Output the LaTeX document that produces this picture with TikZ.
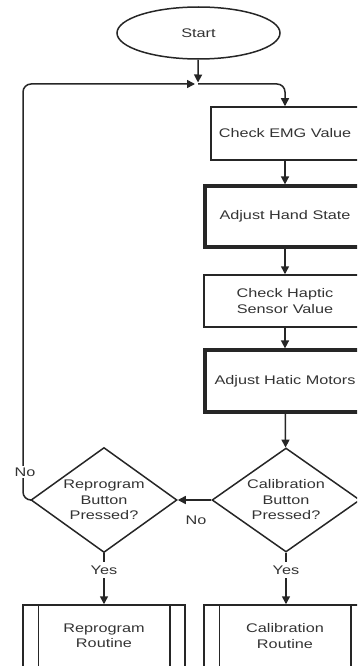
\documentclass[tikz,border=0pt]{standalone}
\usepackage{fontspec}
\setmainfont{Liberation Sans}[FakeStretch=1.3]
\usetikzlibrary{arrows.meta,shapes.geometric}
\begin{document}
\begin{tikzpicture}[x=1pt,y=-1pt,
  font=\fontsize{12.5}{15.5}\selectfont,
  line width=1.5pt,
  >={Triangle[length=8pt,width=8pt]},
  every node/.style={text=black!80},
  box/.style={draw=black!85, rectangle, line width=1.5pt, inner sep=0pt, align=center},
  thickbox/.style={box, line width=3.2pt},
  decision/.style={draw=black!85, diamond, aspect=1.42, inner sep=0pt, align=center,
     minimum width=148pt, minimum height=104pt},
  routine/.style={box, minimum width=162pt, minimum height=62pt},
  lbl/.style={fill=white, inner sep=2pt},
  conn/.style={draw=black!85, line width=1.5pt}]
\useasboundingbox (0,0) rectangle (357,666);
\clip (0,0) rectangle (357,666);

\node[draw=black!85, ellipse, line width=1.5pt, minimum width=163pt, minimum height=52pt, inner sep=0pt] (start) at (198.5,33) {Start};
\coordinate (m) at (198,84);

\node[box, minimum width=148pt, minimum height=53pt] (emg) at (285,133.5) {Check EMG Value};
\node[thickbox, minimum width=160pt, minimum height=61pt] (hand) at (285,216.5) {Adjust Hand State};
\node[box, minimum width=162pt, minimum height=52pt] (hap) at (285,301) {Check Haptic\\Sensor Value};
\node[thickbox, minimum width=160pt, minimum height=62pt] (mot) at (285,381) {Adjust Hatic Motors};

\node[decision] (cal) at (286,500) {Calibration\\Button\\Pressed?};
\node[decision, minimum width=146pt, minimum height=105pt] (rep) at (104,500) {Reprogram\\Button\\Pressed?};

\node[routine] (rr) at (104,636) {Reprogram\\Routine};
\node[routine] (cr) at (285,636) {Calibration\\Routine};
\foreach \b in {rr,cr}{
  \draw[conn] ([xshift=16pt]\b.north west) -- ([xshift=16pt]\b.south west);
  \draw[conn] ([xshift=-16pt]\b.north east) -- ([xshift=-16pt]\b.south east);
}

% connectors
\draw[conn,->] (start) -- ([yshift=1.5pt]m);
\coordinate (lb) at (23,500);
\coordinate (lt) at (23,84);
\draw[conn,->,rounded corners=8pt] (rep.west) -- (lb) -- (lt) -- ([xshift=-3pt]m);
\node[lbl] (nol) at (25,472) {No};
\draw[conn,->,rounded corners=8pt] (m) -| (emg.north);
\draw[conn,->] (emg) -- (hand);
\draw[conn,->] (hand) -- (hap);
\draw[conn,->] (hap) -- (mot);
\draw[conn,->] (mot) -- (cal);
\draw[conn,->] (cal.west) -- (rep.east);
\node (nom) at (196,520) {No};

\node[inner sep=3pt] (yr) at (104,570) {Yes};
\node[inner sep=3pt] (yc) at (286,570) {Yes};
\draw[conn] (rep.south) -- (yr);
\draw[conn,->] (yr) -- (rr.north);
\draw[conn] (cal.south) -- (yc);
\draw[conn,->] (yc) -- (cr.north -| yc);
\end{tikzpicture}
\end{document}
